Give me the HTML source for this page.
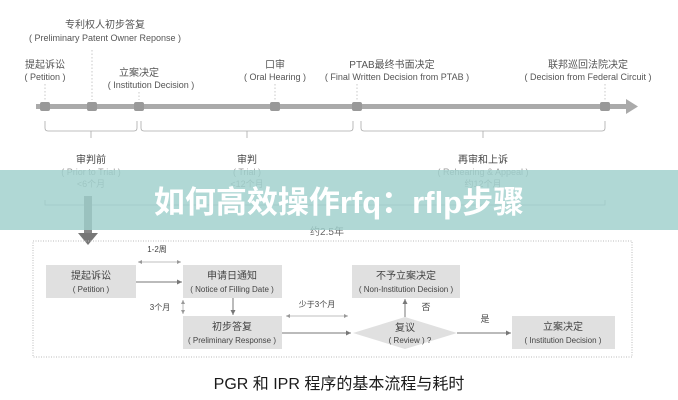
<!DOCTYPE html>
<html><head><meta charset="utf-8"><style>
html,body{margin:0;padding:0;background:#fff;}
svg{display:block;font-family:"Liberation Sans","Noto Sans CJK SC",sans-serif;}
</style></head><body>
<svg width="678" height="400" viewBox="0 0 678 400" xmlns="http://www.w3.org/2000/svg">
<defs>
<marker id="a" markerWidth="6" markerHeight="6" refX="5" refY="3" orient="auto"><path d="M0,0.5 L5,3 L0,5.5z" fill="#777"/></marker>
<marker id="b" markerWidth="6" markerHeight="6" refX="1" refY="3" orient="auto"><path d="M6,0.5 L1,3 L6,5.5z" fill="#999"/></marker>
<marker id="c" markerWidth="6" markerHeight="6" refX="5" refY="3" orient="auto"><path d="M0,0.5 L5,3 L0,5.5z" fill="#999"/></marker>
</defs>
<g fill="#555" font-size="9" text-anchor="middle">
<text x="105" y="28" font-size="10">专利权人初步答复</text>
<text x="105" y="41">( Preliminary Patent Owner Reponse )</text>
<text x="45" y="68" font-size="10">提起诉讼</text>
<text x="45" y="80">( Petition )</text>
<text x="139" y="76" font-size="10">立案决定</text>
<text x="151" y="88">( Institution Decision )</text>
<text x="275" y="68" font-size="10">口审</text>
<text x="275" y="80">( Oral Hearing )</text>
<text x="392" y="68" font-size="10">PTAB最终书面决定</text>
<text x="397" y="80">( Final Written Decision from PTAB )</text>
<text x="588" y="68" font-size="10">联邦巡回法院决定</text>
<text x="588" y="80">( Decision from Federal Circuit )</text>
</g>
<g stroke="#bbb" stroke-dasharray="1.5,2" stroke-width="0.8">
<line x1="45" y1="84" x2="45" y2="100"/><line x1="92" y1="50" x2="92" y2="100"/><line x1="139" y1="92" x2="139" y2="100"/>
<line x1="275" y1="84" x2="275" y2="100"/><line x1="357" y1="84" x2="357" y2="100"/><line x1="605" y1="84" x2="605" y2="100"/>
</g>
<rect x="36" y="104" width="592" height="5" fill="#aaa"/>
<path d="M626,99 L638,106.5 L626,114z" fill="#aaa"/>
<g fill="#999">
<rect x="40" y="102" width="10" height="9" rx="2"/><rect x="87" y="102" width="10" height="9" rx="2"/><rect x="134" y="102" width="10" height="9" rx="2"/>
<rect x="270" y="102" width="10" height="9" rx="2"/><rect x="352" y="102" width="10" height="9" rx="2"/><rect x="600" y="102" width="10" height="9" rx="2"/>
</g>
<g fill="none" stroke="#aaa" stroke-width="0.8">
<path d="M45,121 V128 Q45,131 48,131 H134 Q137,131 137,128 V121 M91,131 V138"/>
<path d="M141,121 V128 Q141,131 144,131 H350 Q353,131 353,128 V121 M247,131 V138"/>
<path d="M361,121 V128 Q361,131 364,131 H602 Q605,131 605,128 V121 M483,131 V138"/>
<path d="M45,200 V205 H605 V200"/>
</g>
<g fill="#666" text-anchor="middle" font-size="9">
<text x="91" y="163" font-size="10" fill="#444">审判前</text><text x="91" y="175" fill="#999">( Prior to Trial )</text><text x="91" y="187" fill="#999">&lt;6个月</text>
<text x="247" y="163" font-size="10" fill="#444">审判</text><text x="247" y="175" fill="#999">( Trial )</text><text x="247" y="187" fill="#999">&lt;12个月</text>
<text x="483" y="163" font-size="10" fill="#444">再审和上诉</text><text x="483" y="175" fill="#999">( Rehearing &amp; Appeal )</text><text x="483" y="187" fill="#999">约12个月</text>
<text x="327" y="235" font-size="10">约2.5年</text>
</g>
<rect x="84" y="196" width="8" height="38" fill="#888"/>
<path d="M78,233 L98,233 L88,245z" fill="#777"/>
<rect x="0" y="170" width="678" height="60" fill="#9fd0cc" fill-opacity="0.82"/>
<text x="339" y="213" text-anchor="middle" font-size="31" font-weight="bold" fill="#fff">如何高效操作rfq：rflp步骤</text>
<rect x="33" y="241" width="599" height="116" fill="none" stroke="#bbb" stroke-dasharray="1,1.5"/>
<g fill="#e0e0e0">
<rect x="46" y="265" width="90" height="33"/><rect x="183" y="265" width="99" height="33"/><rect x="183" y="316" width="99" height="33"/>
<rect x="352" y="265" width="108" height="33"/><rect x="512" y="316" width="103" height="33"/>
<path d="M353,333 L405,317 L457,333 L405,349z"/>
</g>
<g fill="#444" text-anchor="middle" font-size="9">
<text x="91" y="279" font-size="10">提起诉讼</text><text x="91" y="292" font-size="8">( Petition )</text>
<text x="232" y="279" font-size="10">申请日通知</text><text x="232" y="292" font-size="8">( Notice of Filling Date )</text>
<text x="232" y="330" font-size="10">初步答复</text><text x="232" y="343" font-size="8">( Preliminary Response )</text>
<text x="406" y="279" font-size="10">不予立案决定</text><text x="406" y="292" font-size="8">( Non-Institution Decision )</text>
<text x="405" y="331" font-size="10">复议</text><text x="410" y="343" font-size="8">( Review ) ?</text>
<text x="563" y="330" font-size="10">立案决定</text><text x="563" y="343" font-size="8">( Institution Decision )</text>
<text x="157" y="252" font-size="8">1-2周</text>
<text x="160" y="310" font-size="8">3个月</text>
<text x="317" y="307" font-size="8">少于3个月</text>
<text x="426" y="310">否</text>
<text x="485" y="322">是</text>
</g>
<g stroke="#777" stroke-width="1" fill="none">
<line x1="136" y1="282" x2="182" y2="282" marker-end="url(#a)"/>
<line x1="233" y1="298" x2="233" y2="315" marker-end="url(#a)"/>
<line x1="282" y1="333" x2="351" y2="333" marker-end="url(#a)"/>
<line x1="405" y1="317" x2="405" y2="299" marker-end="url(#a)"/>
<line x1="457" y1="333" x2="511" y2="333" marker-end="url(#a)"/>
</g>
<g stroke="#aaa" stroke-width="0.8" fill="none">
<line x1="138" y1="262" x2="181" y2="262" marker-start="url(#b)" marker-end="url(#c)"/>
<line x1="183" y1="300" x2="183" y2="314" marker-start="url(#b)" marker-end="url(#c)"/>
<line x1="286" y1="316" x2="348" y2="316" marker-start="url(#b)" marker-end="url(#c)"/>
</g>
<text x="339" y="389" text-anchor="middle" font-size="16" fill="#1a1a1a">PGR 和 IPR 程序的基本流程与耗时</text>
</svg>
</body></html>
